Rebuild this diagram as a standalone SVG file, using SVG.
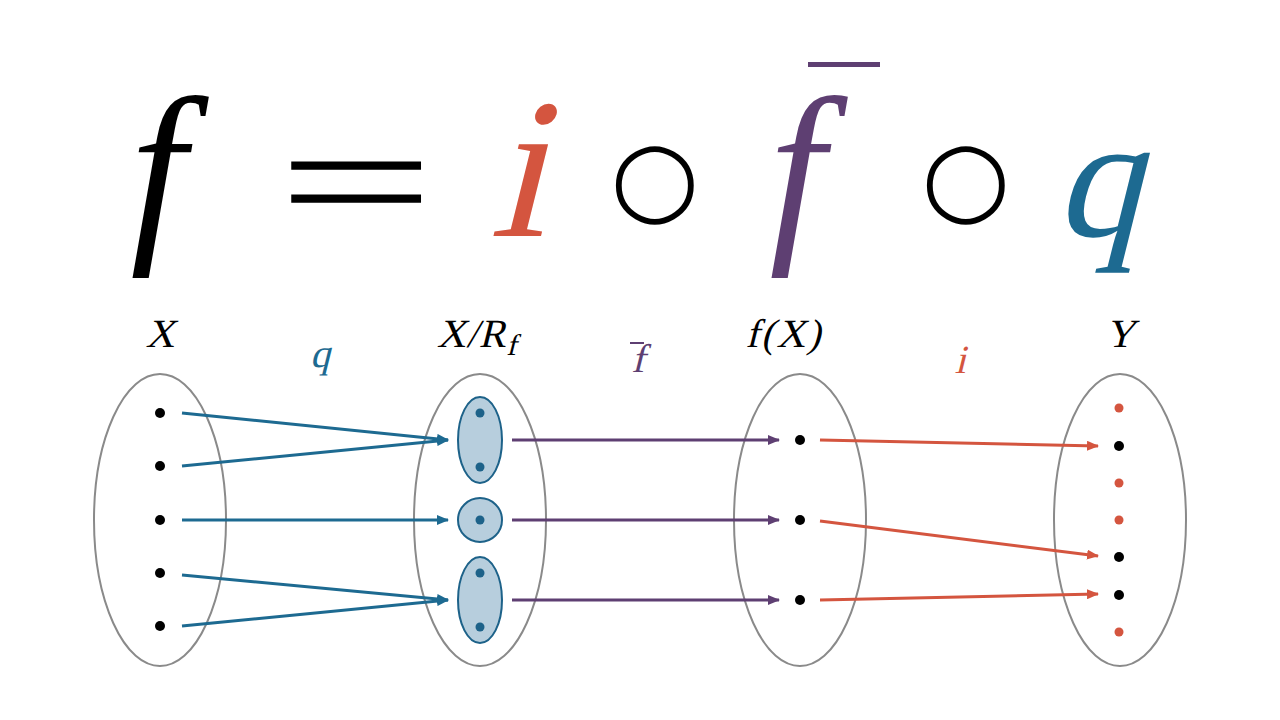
<svg xmlns="http://www.w3.org/2000/svg" width="1280" height="720" viewBox="0 0 1280 720">
<style>
.s{font-family:"Liberation Serif","Times New Roman",serif}
.it{font-family:"Liberation Serif","Times New Roman",serif;font-style:italic}
.big{font-size:200px}
.lab{font-size:40px;text-anchor:middle}
.set{fill:none;stroke:#8a8a8a;stroke-width:2}
.cls{fill:#b7cedd;stroke:#1d6289;stroke-width:2}
.dk{fill:#000}
.bd{fill:#1d6289}
.rd{fill:#d4553f}
.cq{stroke:#1d6a91;stroke-width:3;fill:none}
.cf{stroke:#5e3f72;stroke-width:3;fill:none}
.ci{stroke:#d4553f;stroke-width:3;fill:none}
.op{font-family:"DejaVu Sans",sans-serif;font-size:102px;text-anchor:middle}
</style>
<defs>
<marker id="aq" viewBox="0 0 12 10" refX="11" refY="5" markerWidth="12" markerHeight="10" markerUnits="userSpaceOnUse" orient="auto"><path d="M0,0 L12,5 L0,10 Z" fill="#1d6a91"/></marker>
<marker id="af" viewBox="0 0 12 10" refX="11" refY="5" markerWidth="12" markerHeight="10" markerUnits="userSpaceOnUse" orient="auto"><path d="M0,0 L12,5 L0,10 Z" fill="#5e3f72"/></marker>
<marker id="ai" viewBox="0 0 12 10" refX="11" refY="5" markerWidth="12" markerHeight="10" markerUnits="userSpaceOnUse" orient="auto"><path d="M0,0 L12,5 L0,10 Z" fill="#d4553f"/></marker>
</defs>
<rect width="1280" height="720" fill="#fff"/>
<g id="formula">
<text class="it big" x="158" y="236" text-anchor="middle">f</text>
<text class="s" x="356" y="237" text-anchor="middle" font-size="165" transform="translate(356 0) scale(1.69 1) translate(-356 0)">=</text>
<text class="s big" transform="translate(517 236) skewX(-14)" text-anchor="middle" fill="#d4553f">i</text>
<text class="op" x="655" y="212">○</text>
<text class="it big" x="797" y="236" text-anchor="middle" fill="#5e3f72">f</text>
<rect x="808" y="62" width="72" height="5" fill="#5e3f72"/>
<text class="op" x="966" y="212">○</text>
<text class="s" font-size="173" transform="translate(1098 236) skewX(-14)" text-anchor="middle" fill="#1d6a91">q</text>
</g>
<g id="labels">
<text class="s lab" transform="translate(320 367) skewX(-14)" fill="#1d6a91">q</text>
<text class="s lab" transform="translate(638 372) skewX(-14)" fill="#5e3f72">f</text>
<rect x="630" y="342" width="14" height="2" fill="#5e3f72"/>
<text class="s lab" transform="translate(960 373) skewX(-14)" fill="#d4553f">i</text>
</g>
<g id="X">
<text class="s lab" transform="translate(160 347) skewX(-14)">X</text>
<ellipse class="set" cx="160" cy="520" rx="66" ry="146"/>
<circle class="dk" cx="160" cy="413" r="5"/>
<circle class="dk" cx="160" cy="466" r="5"/>
<circle class="dk" cx="160" cy="520" r="5"/>
<circle class="dk" cx="160" cy="573" r="5"/>
<circle class="dk" cx="160" cy="626" r="5"/>
</g>
<g id="XRf">
<text class="s lab" transform="translate(478 347) skewX(-14)" letter-spacing="1">X/R<tspan font-size="30" dx="2" dy="8">f</tspan></text>
<ellipse class="set" cx="480" cy="520" rx="66" ry="146"/>
<ellipse class="cls" cx="480" cy="440" rx="22" ry="43"/>
<circle class="cls" cx="480" cy="520" r="22"/>
<ellipse class="cls" cx="480" cy="600" rx="22" ry="43"/>
<circle class="bd" cx="480" cy="413" r="4.5"/>
<circle class="bd" cx="480" cy="467" r="4.5"/>
<circle class="bd" cx="480" cy="520" r="4.5"/>
<circle class="bd" cx="480" cy="573" r="4.5"/>
<circle class="bd" cx="480" cy="627" r="4.5"/>
</g>
<g id="fX">
<text class="s lab" transform="translate(784 347) skewX(-14)" letter-spacing="2">f(X)</text>
<ellipse class="set" cx="800" cy="520" rx="66" ry="146"/>
<circle class="dk" cx="800" cy="440" r="5"/>
<circle class="dk" cx="800" cy="520" r="5"/>
<circle class="dk" cx="800" cy="600" r="5"/>
</g>
<g id="Y">
<text class="s lab" transform="translate(1120 347) skewX(-14)">Y</text>
<ellipse class="set" cx="1120" cy="520" rx="66" ry="146"/>
<circle class="rd" cx="1119" cy="408" r="4.5"/>
<circle class="dk" cx="1119" cy="446" r="5"/>
<circle class="rd" cx="1119" cy="483" r="4.5"/>
<circle class="rd" cx="1119" cy="520" r="4.5"/>
<circle class="dk" cx="1119" cy="557" r="5"/>
<circle class="dk" cx="1119" cy="595" r="5"/>
<circle class="rd" cx="1119" cy="632" r="4.5"/>
</g>
<g id="connectors">
<line class="cq" x1="182" y1="413" x2="448" y2="440" marker-end="url(#aq)"/>
<line class="cq" x1="182" y1="466" x2="448" y2="440" marker-end="url(#aq)"/>
<line class="cq" x1="182" y1="520" x2="448" y2="520" marker-end="url(#aq)"/>
<line class="cq" x1="182" y1="575" x2="448" y2="600" marker-end="url(#aq)"/>
<line class="cq" x1="182" y1="626" x2="448" y2="600" marker-end="url(#aq)"/>
<line class="cf" x1="512" y1="440" x2="779" y2="440" marker-end="url(#af)"/>
<line class="cf" x1="512" y1="520" x2="779" y2="520" marker-end="url(#af)"/>
<line class="cf" x1="512" y1="600" x2="779" y2="600" marker-end="url(#af)"/>
<line class="ci" x1="820" y1="440" x2="1098" y2="446" marker-end="url(#ai)"/>
<line class="ci" x1="820" y1="521" x2="1098" y2="556" marker-end="url(#ai)"/>
<line class="ci" x1="820" y1="600" x2="1098" y2="594" marker-end="url(#ai)"/>
</g>
</svg>
